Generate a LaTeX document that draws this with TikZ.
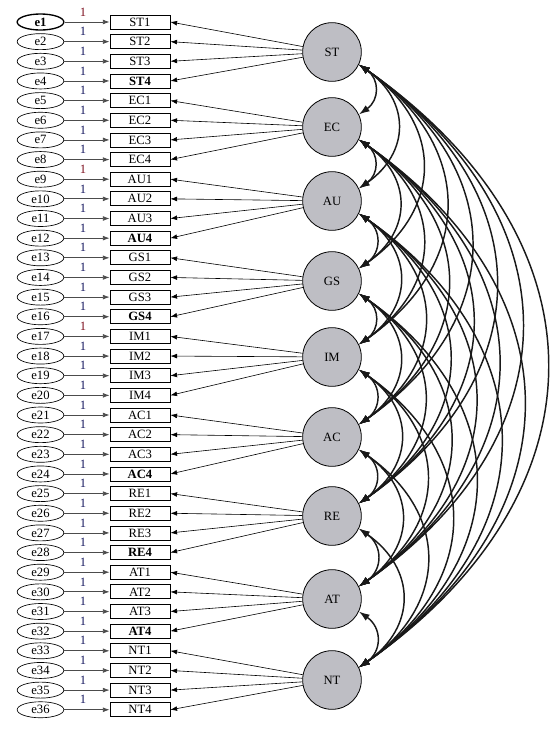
\documentclass[tikz,border=0pt]{standalone}
\usepackage{fontspec}
\setmainfont{Liberation Serif}
\usepackage{tikz}
\usetikzlibrary{arrows.meta,shapes.geometric}
\definecolor{semlatent}{RGB}{190,190,196}
\definecolor{semone}{RGB}{22,24,95}
\definecolor{semfix}{RGB}{125,15,30}
\newcommand{\semsize}{\fontsize{9.5}{11}\selectfont}

\tikzset{
  errnode/.style={ellipse,draw,line width=0.5pt,minimum width=35pt,minimum height=12pt,inner sep=0pt,font=\semsize},
  itemnode/.style={rectangle,draw,line width=0.6pt,minimum width=45pt,minimum height=10.5pt,inner sep=0pt,font=\semsize},
  latnode/.style={circle,draw,line width=0.6pt,fill=semlatent,minimum size=44pt,inner sep=0pt,font=\semsize},
  onenode/.style={inner sep=0pt,font=\semsize},
  errarrow/.style={-{Latex[length=5pt,width=3.6pt]},draw=black!70,line width=0.6pt},
  loadarrow/.style={-{Latex[length=5pt,width=3.6pt]},line width=0.45pt},
  covarrow/.style={{Latex[length=8pt,width=5.5pt]}-{Latex[length=8pt,width=5.5pt]},draw=black!90,line width=1.1pt}
}

\begin{document}
\begin{tikzpicture}[x=0.75pt,y=-0.75pt]
  \useasboundingbox (0,0) rectangle (560,729);
  % latent factors
  \foreach \f/\y in {ST/52,EC/127,AU/201,GS/281,IM/357,AC/437,RE/516,AT/599,NT/680}
    \node[latnode] (\f) at (332,\y) {\f};
  % indicators, errors and loadings
  \foreach \f/\b/\r [count=\k] in {ST/1/1,EC/0/0,AU/1/1,GS/1/0,IM/0/1,AC/1/0,RE/1/0,AT/1/0,NT/0/0} {
    \foreach \n in {1,...,4} {
      \pgfmathtruncatemacro\m{(\k-1)*4+\n}
      \pgfmathsetmacro\y{22+(\m-1)*19.65}
      \ifnum\n=4 \ifnum\b=1 \tikzset{itemcur/.style={font=\semsize\bfseries}}\else\tikzset{itemcur/.style={}}\fi
      \else\tikzset{itemcur/.style={}}\fi
      \ifnum\n=1 \ifnum\r=1 \tikzset{onecur/.style={text=semfix}}\else\tikzset{onecur/.style={text=semone}}\fi
      \else\tikzset{onecur/.style={text=semone}}\fi
      \ifnum\m=1 \tikzset{errcur/.style={line width=1pt,font=\semsize\bfseries}}\else\tikzset{errcur/.style={}}\fi
      \node[itemnode,itemcur] (\f\n) at (140,\y) {\f\n};
      \node[errnode,errcur] (e\m) at (40.5,\y) {e\m};
      \node[onenode,onecur] (one\m) at (83,\y-10) {1};
      \draw[errarrow] (e\m) -- (\f\n);
      \draw[loadarrow] (\f) -- (\f\n.east);
    }
  }
  % covariances
  \foreach \a [count=\i] in {ST,EC,AU,GS,IM,AC,RE,AT,NT}
    \foreach \c [count=\j] in {ST,EC,AU,GS,IM,AC,RE,AT,NT} {
      \ifnum\j>\i
        \draw[covarrow] (\a.-25) to[out=-35,in=35,looseness=1.3] (\c.25);
      \fi
    }
\end{tikzpicture}
\end{document}
